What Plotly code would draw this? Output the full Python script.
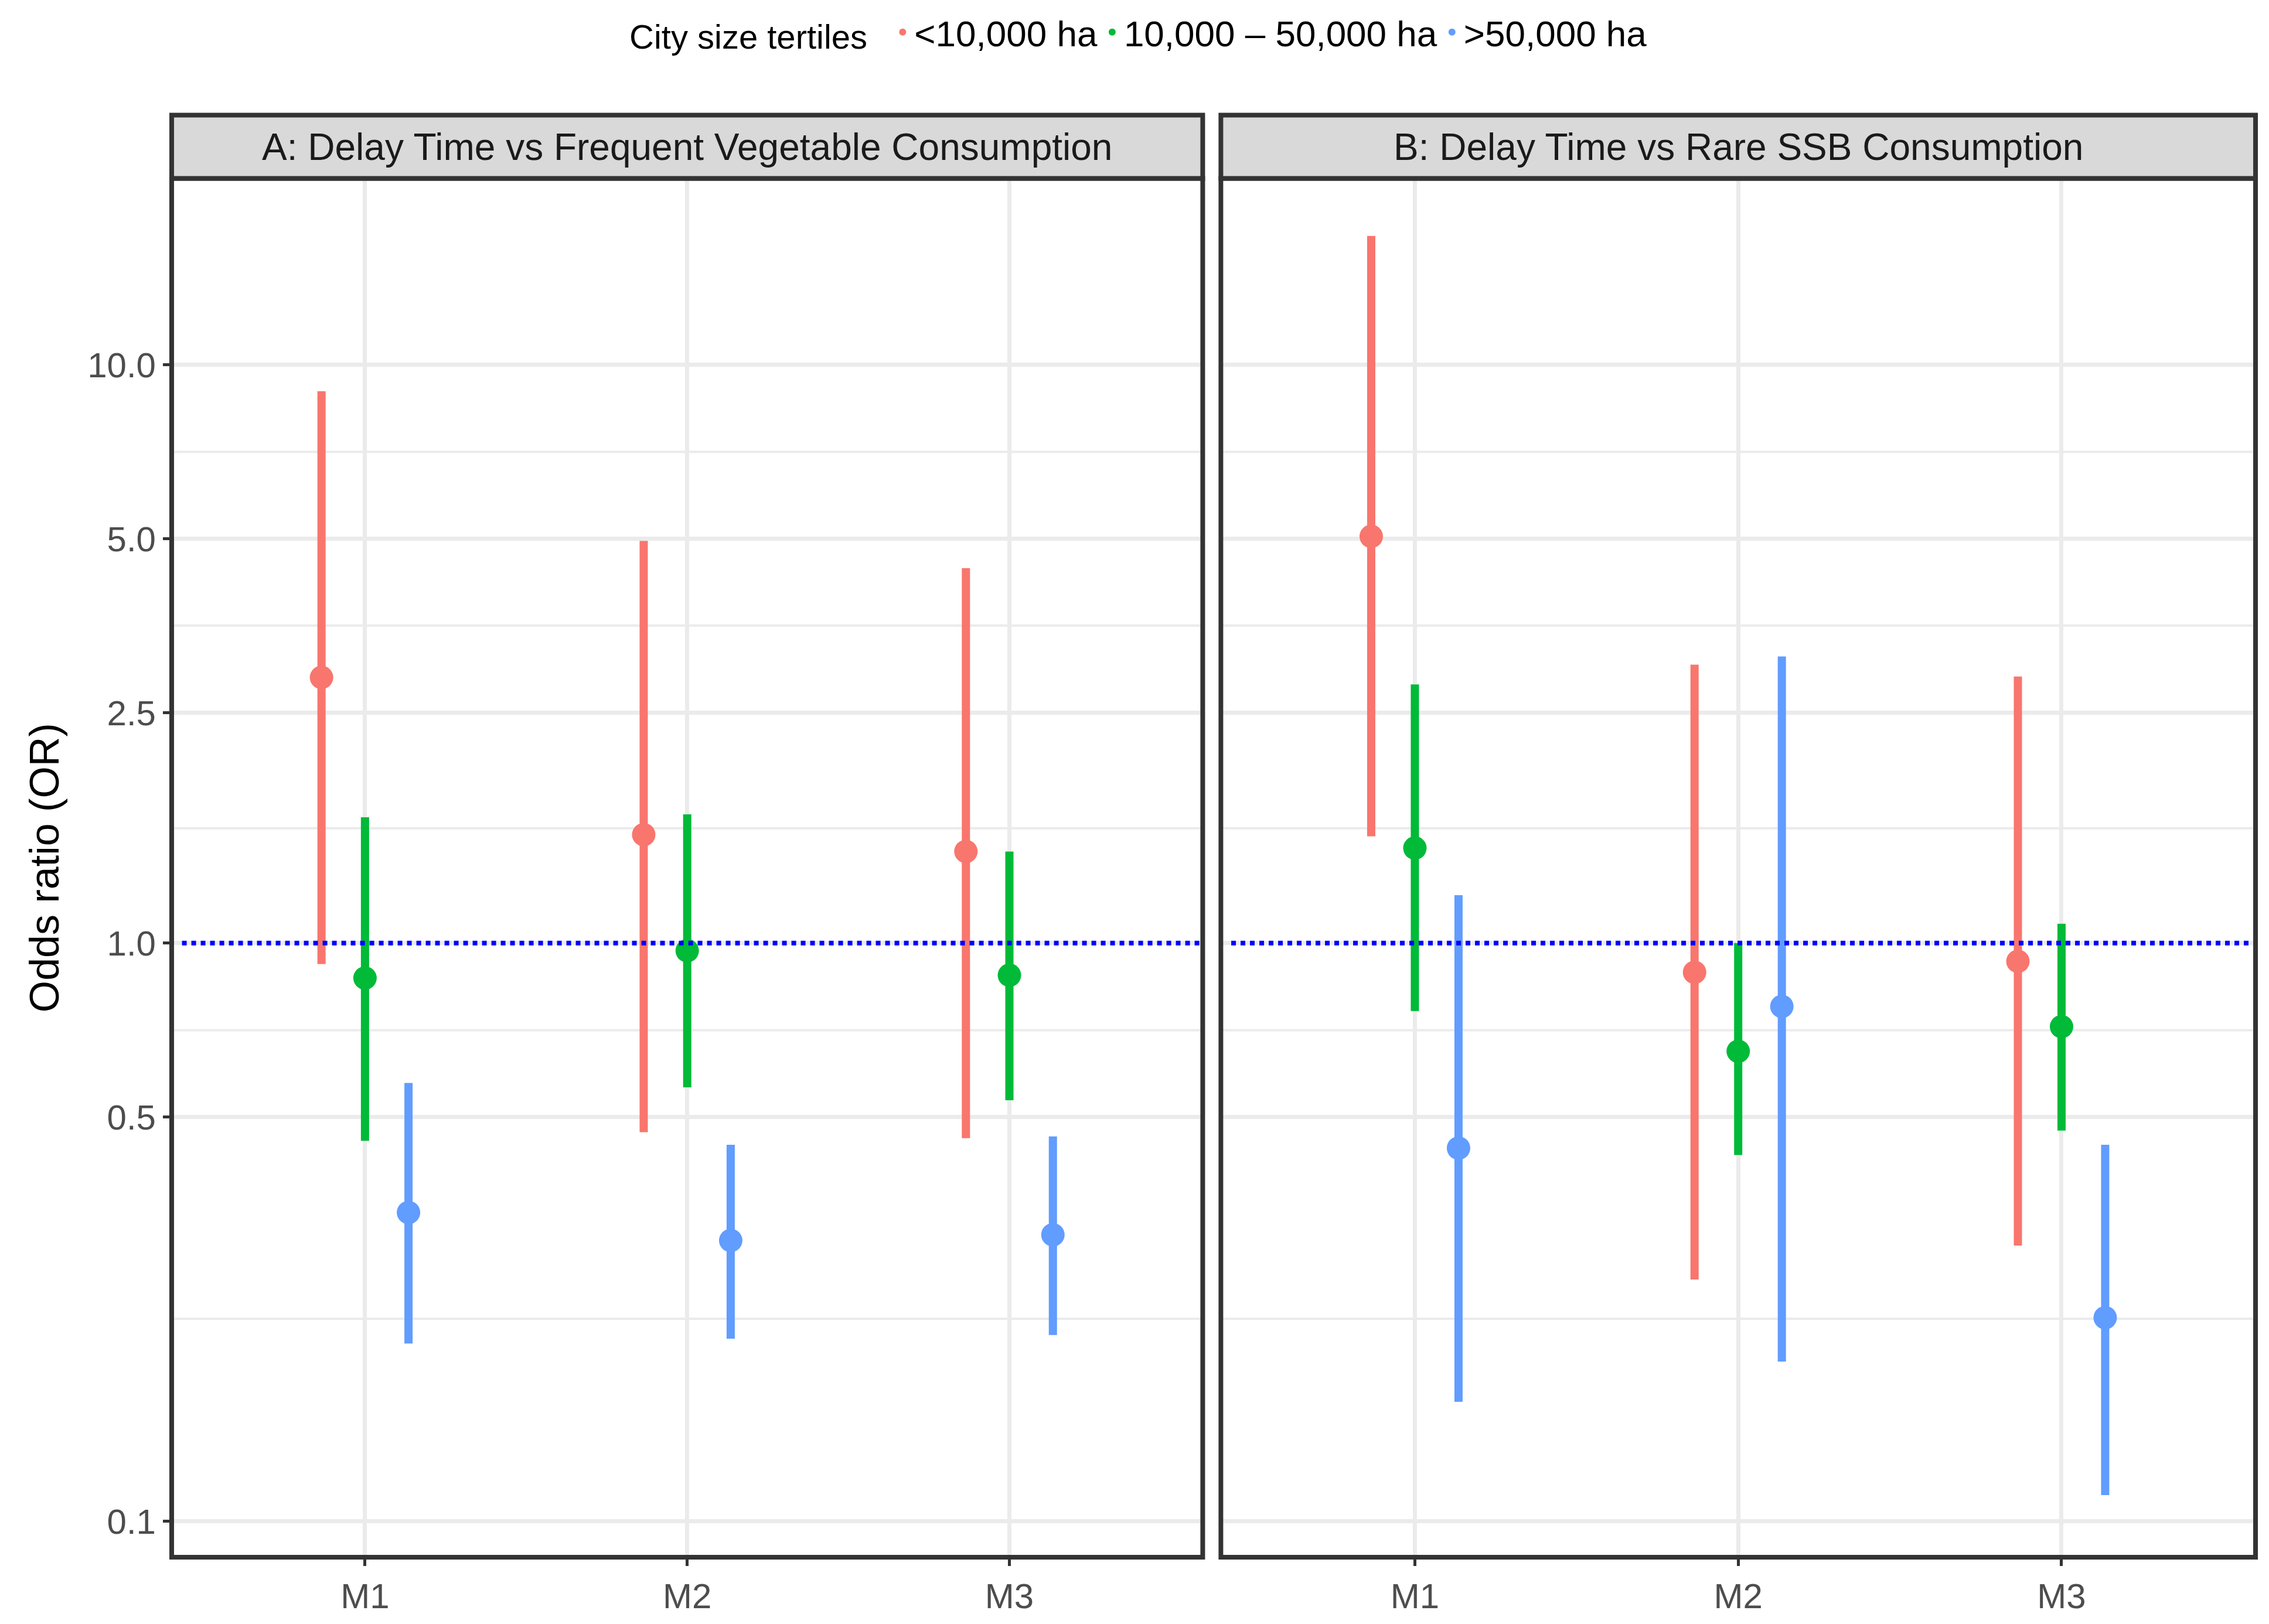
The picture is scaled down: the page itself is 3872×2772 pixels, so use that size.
import plotly.graph_objects as go
import math

models = ["M1", "M2", "M3"]
groups = ["<10,000 ha", "10,000 – 50,000 ha", ">50,000 ha"]
colors = ["#F8766D", "#00BA38", "#619CFF"]

# Panel A: Delay time vs frequent vegetable consumption
a_or = [[2.88, 1.54, 1.44], [0.87, 0.97, 0.88], [0.342, 0.306, 0.313]]
a_lo = [[0.92, 0.471, 0.46], [0.455, 0.563, 0.535], [0.203, 0.207, 0.21]]
a_hi = [[9.0, 4.96, 4.45], [1.65, 1.67, 1.44], [0.573, 0.448, 0.463]]
# Panel B: Delay time vs rare SSB consumption
b_or = [[5.05, 0.89, 0.93], [1.46, 0.65, 0.717], [0.442, 0.777, 0.225]]
b_lo = [[1.53, 0.262, 0.30], [0.763, 0.43, 0.474], [0.161, 0.189, 0.111]]
b_hi = [[16.7, 3.03, 2.89], [2.8, 1.0, 1.08], [1.21, 3.13, 0.448]]

major = [0.1, 0.5, 1.0, 2.5, 5.0, 10.0]
major_txt = ["0.1", "0.5", "1.0", "2.5", "5.0", "10.0"]
minor = [0.224, 0.707, 1.58, 3.54, 7.07]

offsets = [-0.135, 0, 0.135]
fig = go.Figure()
for p, (orv, lo, hi) in enumerate([(a_or, a_lo, a_hi), (b_or, b_lo, b_hi)]):
    xa = "x" if p == 0 else "x2"
    ya = "y" if p == 0 else "y2"
    for g in range(3):
        xs = [i + offsets[g] for i in range(3)]
        fig.add_trace(go.Scatter(
            x=xs, y=orv[g], mode="markers", xaxis=xa, yaxis=ya,
            name=groups[g], legendgroup=groups[g], showlegend=(p == 0),
            marker=dict(color=colors[g], size=40),
            error_y=dict(type="data", symmetric=False,
                         array=[h - o for h, o in zip(hi[g], orv[g])],
                         arrayminus=[o - l for o, l in zip(orv[g], lo[g])],
                         color=colors[g], thickness=14, width=0)))

yrange = [math.log10(0.0867), math.log10(21)]
common_y = dict(type="log", range=yrange, tickvals=major, ticktext=major_txt,
                showgrid=True, gridcolor="#EBEBEB", gridwidth=7, zeroline=False,
                tickfont=dict(size=60, color="#4D4D4D"))
common_x = dict(range=[-0.6, 2.6], tickvals=[0, 1, 2], ticktext=models,
                showgrid=True, gridcolor="#EBEBEB", gridwidth=7, zeroline=False,
                ticks="outside", ticklen=14, tickwidth=5, tickcolor="#333333",
                tickfont=dict(size=60, color="#4D4D4D"))
yb, yt = 0.044, 0.893
dA, dB = [0.0736, 0.528], [0.536, 0.992]
fig.update_layout(
    width=3872, height=2772, paper_bgcolor="white", plot_bgcolor="white",
    margin=dict(l=0, r=0, t=0, b=0),
    font=dict(family="Liberation Sans, Arial", color="black"),
    xaxis=dict(domain=dA, anchor="y", **common_x),
    xaxis2=dict(domain=dB, anchor="y2", **common_x),
    yaxis=dict(domain=[yb, yt], anchor="x", ticks="outside", ticklen=14, tickwidth=5, tickcolor="#333333",
               title=dict(text="Odds ratio (OR)", font=dict(size=70), standoff=25), **common_y),
    yaxis2=dict(domain=[yb, yt], anchor="x2", showticklabels=False, ticks="", **common_y),
    legend=dict(orientation="h", x=0.5, xanchor="center", y=1.0, yanchor="top",
                title=dict(text="City size tertiles  ", font=dict(size=58)),
                font=dict(size=62), itemsizing="constant"),
)
shapes = []
for i, (d, xr, yr) in enumerate([(dA, "x", "y"), (dB, "x2", "y2")]):
    for m in minor:
        shapes.append(dict(type="line", xref=xr + " domain", yref=yr, x0=0, x1=1, y0=m, y1=m,
                           line=dict(color="#EBEBEB", width=4), layer="below"))
    shapes.append(dict(type="line", xref=xr + " domain", yref=yr, x0=0.01, x1=1, y0=1, y1=1,
                       line=dict(color="blue", width=8, dash="dot")))
    shapes.append(dict(type="rect", xref="paper", yref="paper", x0=d[0], x1=d[1], y0=yb, y1=yt,
                       line=dict(color="#333333", width=8)))
    shapes.append(dict(type="rect", xref="paper", yref="paper", x0=d[0], x1=d[1], y0=yt, y1=0.932,
                       fillcolor="#D9D9D9", line=dict(color="#333333", width=8)))
fig.update_layout(shapes=shapes)
titles = ["A: Delay Time vs Frequent Vegetable Consumption", "B: Delay Time vs Rare SSB Consumption"]
for d, t in zip([dA, dB], titles):
    fig.add_annotation(x=(d[0] + d[1]) / 2, y=(yt + 0.932) / 2, xref="paper", yref="paper",
                       xanchor="center", yanchor="middle",
                       text=t, showarrow=False, font=dict(size=64, color="#1A1A1A"))
fig.write_html("out.html")
